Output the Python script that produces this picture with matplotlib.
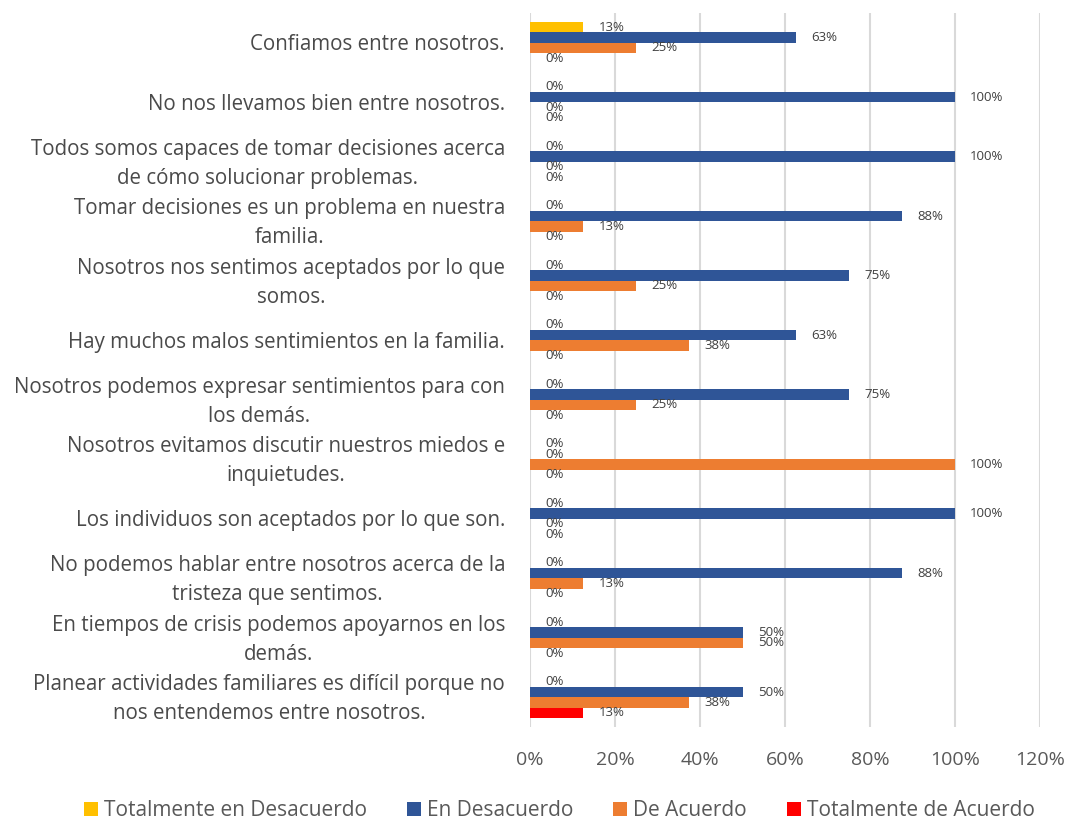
import matplotlib
matplotlib.use("Agg")
import matplotlib.pyplot as plt
import matplotlib.transforms as mtransforms
from matplotlib.patches import Patch
import numpy as np

categories = [
    "Confiamos entre nosotros.",
    "No nos llevamos bien entre nosotros.",
    "Todos somos capaces de tomar decisiones acerca\nde cómo solucionar problemas.",
    "Tomar decisiones es un problema en nuestra\nfamilia.",
    "Nosotros nos sentimos aceptados por lo que\nsomos.",
    "Hay muchos malos sentimientos en la familia.",
    "Nosotros podemos expresar sentimientos para con\nlos demás.",
    "Nosotros evitamos discutir nuestros miedos e\ninquietudes.",
    "Los individuos son aceptados por lo que son.",
    "No podemos hablar entre nosotros acerca de la\ntristeza que sentimos.",
    "En tiempos de crisis podemos apoyarnos en los\ndemás.",
    "Planear actividades familiares es difícil porque no\nnos entendemos entre nosotros.",
]
series_names = ["Totalmente en Desacuerdo", "En Desacuerdo", "De Acuerdo", "Totalmente de Acuerdo"]
totalmente_desacuerdo = [12.5, 0, 0, 0, 0, 0, 0, 0, 0, 0, 0, 0]
en_desacuerdo = [62.5, 100, 100, 87.5, 75, 62.5, 75, 0, 100, 87.5, 50, 50]
de_acuerdo = [25, 0, 0, 12.5, 25, 37.5, 25, 100, 0, 12.5, 50, 37.5]
totalmente_acuerdo = [0, 0, 0, 0, 0, 0, 0, 0, 0, 0, 0, 12.5]
x_ticks = [0, 20, 40, 60, 80, 100, 120]
x_tick_labels = ["0%", "20%", "40%", "60%", "80%", "100%", "120%"]

colors = ["#FFC000", "#2F5597", "#ED7D31", "#FF0000"]
series = [totalmente_desacuerdo, en_desacuerdo, de_acuerdo, totalmente_acuerdo]

FONT = "Open Sans"
TXT = "#595959"
CAT = "#4A4A4A"

fig = plt.figure(figsize=(10.67, 8.23), dpi=100)
ax = fig.add_axes([530 / 1067, 1 - 727 / 823, (1040 - 530) / 1067, (727 - 13) / 823])

y = np.arange(len(categories))
h = 0.173
offsets = [-1.5 * h, -0.5 * h, 0.5 * h, 1.5 * h]
for vals, col, off, name in zip(series, colors, offsets, series_names):
    ax.barh(y + off, vals, height=h, color=col, label=name, zorder=3)
    for yi, v in zip(y, vals):
        ax.annotate(f"{int(v + 0.5)}%", xy=(v, yi + off), xytext=(11, 0),
                    textcoords="offset points", va="center", ha="left",
                    fontsize=9.5, color="#404040", family=FONT, zorder=4)

ax.set_ylim(len(categories) - 0.5, -0.5)
ax.set_xlim(0, 120)
ax.set_xticks(x_ticks)
ax.set_xticklabels(x_tick_labels, fontsize=14, color=TXT, family=FONT)
ax.set_yticks(y)
ax.set_yticklabels([])
ax.tick_params(axis="both", length=0)
ax.tick_params(axis="x", pad=17)
for s in ax.spines.values():
    s.set_visible(False)
ax.grid(axis="x", color="#D9D9D9", linewidth=1.5, zorder=0)
ax.set_axisbelow(True)

for yi, lab in zip(y, categories):
    tr = ax.get_yaxis_transform() + mtransforms.ScaledTranslation(-0.25, -0.02, fig.dpi_scale_trans)
    ax.text(0, yi, lab, transform=tr, ha="right", va="center", multialignment="center",
            fontsize=14.8, color=CAT, family=FONT, linespacing=1.5)

handles = [Patch(facecolor=c, label=n) for c, n in zip(colors, series_names)]
leg = fig.legend(handles=handles, loc="center", bbox_to_anchor=(559.5 / 1067, 1 - 811 / 823),
                 ncol=4, frameon=False, handlelength=0.67, handleheight=0.67,
                 handletextpad=0.3, columnspacing=1.9,
                 prop={"family": FONT, "size": 15})
for t in leg.get_texts():
    t.set_color(TXT)

fig.savefig("out.png", dpi=100)
